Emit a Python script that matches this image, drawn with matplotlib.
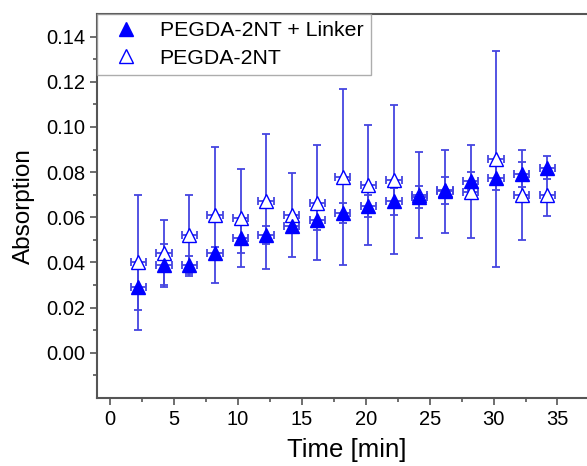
import numpy as np
import matplotlib.pyplot as plt
from matplotlib.lines import Line2D

plt.rcParams['font.family'] = ['Liberation Sans', 'DejaVu Sans']

# time points [min]
time = [2.2, 4.2, 6.2, 8.2, 10.2, 12.2, 14.2, 16.2, 18.2, 20.2,
        22.2, 24.2, 26.2, 28.2, 30.2, 32.2, 34.2]
time_err = 0.6

# PEGDA-2NT + Linker (filled)
linker_y = [0.029, 0.039, 0.039, 0.044, 0.051, 0.052, 0.056, 0.059, 0.062, 0.065,
            0.067, 0.069, 0.072, 0.076, 0.0775, 0.079, 0.082]
linker_err = [0.010, 0.009, 0.004, 0.003, 0.007, 0.004, 0.003, 0.0047, 0.0045, 0.005,
              0.006, 0.005, 0.006, 0.004, 0.0055, 0.0055, 0.005]

# PEGDA-2NT (open)
plain_y = [0.040, 0.044, 0.052, 0.061, 0.0595, 0.067, 0.061, 0.0665, 0.078, 0.0744,
           0.0767, 0.070, 0.0715, 0.0714, 0.0858, 0.070, 0.0697]
plain_err = [0.030, 0.015, 0.018, 0.030, 0.0217, 0.030, 0.0188, 0.0253, 0.039, 0.0266,
             0.0328, 0.019, 0.0184, 0.0207, 0.0476, 0.020, 0.009]

blue = '#0000ff'
err_col = '#4545e0'

fig = plt.figure(figsize=(5.87, 4.66), dpi=100)
ax = fig.add_axes([0.165, 0.146, 0.85, 0.824])

for y, e, face in [(plain_y, plain_err, 'white'), (linker_y, linker_err, blue)]:
    ax.errorbar(time, y, yerr=e, xerr=time_err, fmt='none', ecolor=err_col,
                elinewidth=1.3, capsize=3, capthick=1.3, zorder=2)
    ax.plot(time, y, linestyle='none', marker='^', markersize=10,
            markerfacecolor=face, markeredgecolor=blue, markeredgewidth=1.0, zorder=3)

ax.set_xlim(-1.05, 38)
ax.set_ylim(-0.02, 0.15)
ax.set_xticks(np.arange(0, 36, 5))
ax.set_xticks(np.arange(2.5, 38, 5), minor=True)
ax.set_yticks(np.arange(0, 0.141, 0.02))
ax.set_yticks(np.arange(-0.01, 0.15, 0.02), minor=True)
ax.yaxis.set_major_formatter(plt.FormatStrFormatter('%.2f'))

for s in ['left', 'bottom', 'top', 'right']:
    ax.spines[s].set_color('#555555')
    ax.spines[s].set_linewidth(1.5)
ax.tick_params(which='both', direction='out', colors='#555555', labelcolor='black',
               labelsize=14.5, width=1.2)
ax.tick_params(which='major', length=5)
ax.tick_params(which='minor', length=3)

ax.set_xlabel('Time [min]', fontsize=18.5, labelpad=7)
ax.set_ylabel('Absorption', fontsize=17.5, labelpad=8)

handles = [Line2D([], [], linestyle='none', marker='^', markersize=10,
                  markerfacecolor=blue, markeredgecolor=blue),
           Line2D([], [], linestyle='none', marker='^', markersize=10,
                  markerfacecolor='white', markeredgecolor=blue)]
leg = ax.legend(handles, ['PEGDA-2NT + Linker', 'PEGDA-2NT'], loc='upper left',
                bbox_to_anchor=(0.0, 1.0), fontsize=15.3, fancybox=False,
                borderaxespad=0.0, handletextpad=0.6, labelspacing=0.4,
                borderpad=0.35)
leg.get_frame().set_edgecolor('#999999')
leg.get_frame().set_linewidth(1.0)

fig.savefig('out.png', dpi=100)
